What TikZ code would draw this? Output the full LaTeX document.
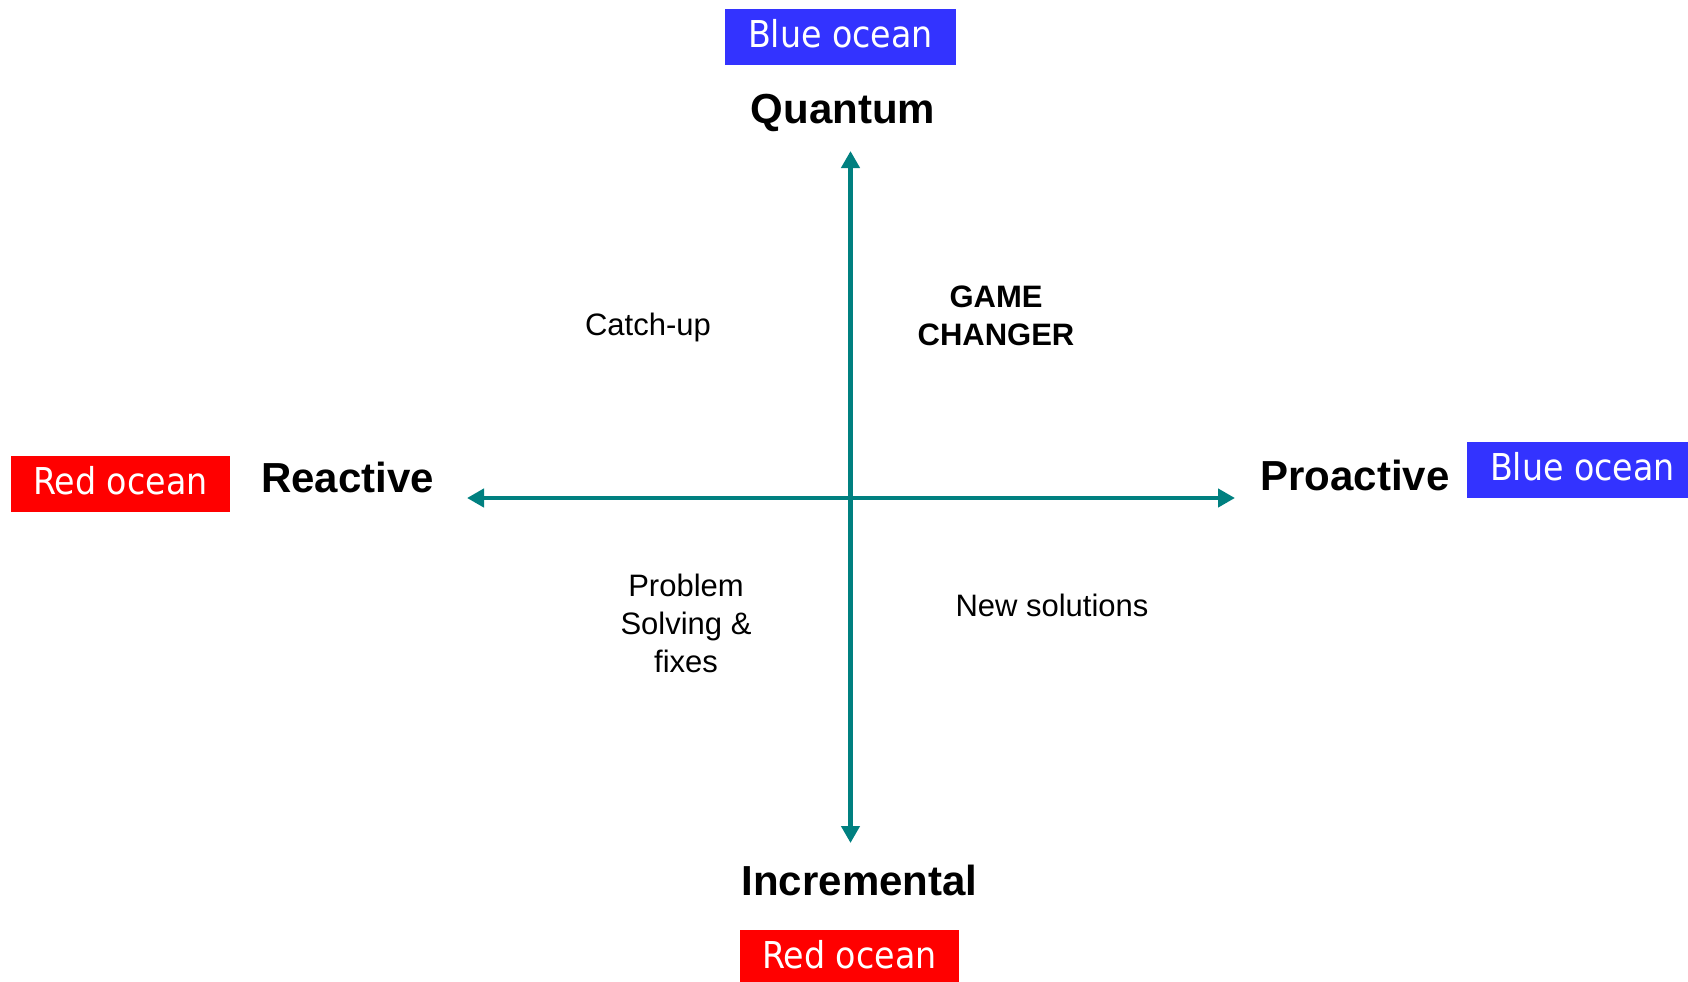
\documentclass[tikz,border=0pt]{standalone}
\usepackage{fontspec}
\setmainfont{Liberation Sans}
\newfontfamily\oceanfont{DejaVu Sans Condensed}
\usetikzlibrary{arrows.meta}
\definecolor{axisteal}{RGB}{0,128,128}
\definecolor{blueocean}{RGB}{51,51,255}
\definecolor{redocean}{RGB}{255,0,0}
\begin{document}
\begin{tikzpicture}[x=0.5pt,y=-0.5pt,
  ocean/.style={font=\oceanfont\fontsize{18.5}{22}\selectfont, text=white, inner sep=0pt, text height=13pt, text depth=3pt, anchor=base},
  blueo/.style={ocean, fill=blueocean, minimum width=115.5pt, minimum height=28pt},
  redo/.style={ocean, fill=redocean, minimum width=109.5pt, minimum height=28pt},
  axislabel/.style={font=\bfseries\fontsize{21}{25}\selectfont, anchor=base, inner sep=0pt},
  quad/.style={font=\fontsize{15.5}{19}\selectfont, inner sep=0pt},
  axisline/.style={draw=axisteal, line width=2.25pt, {Triangle[width=9pt,length=8.5pt]}-{Triangle[width=9pt,length=8.5pt]}},
]
\useasboundingbox (0,0) rectangle (1688,981);

% axes
\coordinate (top) at (850.5,151);
\coordinate (bottom) at (850.5,843);
\coordinate (left) at (467,498);
\coordinate (right) at (1235,498);
\draw[axisline] (bottom) -- (top);
\draw[axisline] (left) -- (right);

% ocean labels
\node[blueo] (bluetop) at (840.5,47) {Blue ocean};
\node[blueo] (blueright) at (1582.5,480) {Blue ocean};
\node[redo] (redleft) at (120.5,494) {Red ocean};
\node[redo] (redbottom) at (849.5,968) {Red ocean};

% axis labels
\node[axislabel] (quantum) at (843,123) {Quantum};
\node[axislabel] (reactive) at (347.5,492) {Reactive};
\node[axislabel] (proactive) at (1355,490) {Proactive};
\node[axislabel] (incremental) at (859.5,895) {Incremental};

% quadrant labels
\node[quad, anchor=base] (catchup) at (648,335) {Catch-up};
\node[quad, font=\bfseries\fontsize{15.5}{19}\selectfont, align=center] (game) at (996,316) {GAME\\CHANGER};
\node[quad, align=center] (problem) at (686,623) {Problem\\Solving \&\\fixes};
\node[quad, anchor=base] (newsol) at (1052,616) {New solutions};
\end{tikzpicture}
\end{document}
